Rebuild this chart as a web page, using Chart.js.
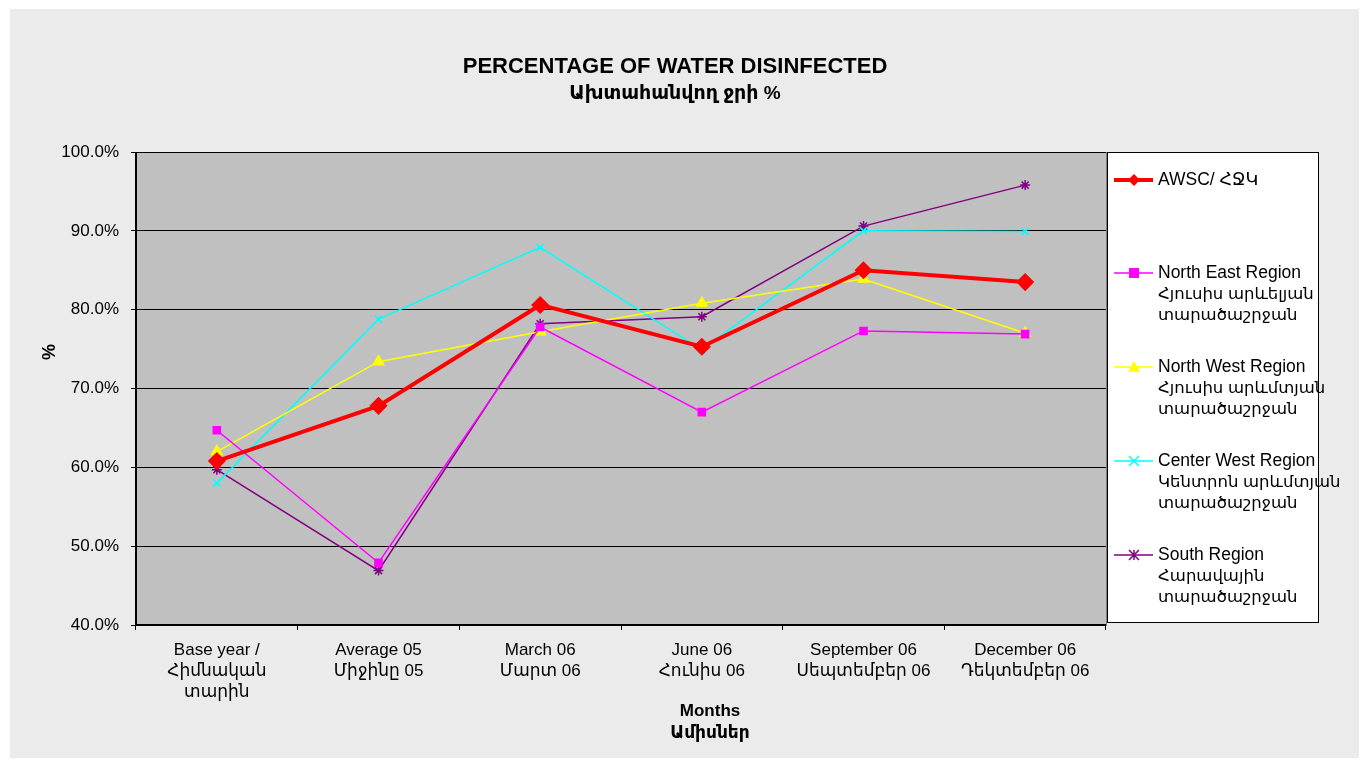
<!DOCTYPE html>
<html>
<head>
<meta charset="utf-8">
<script src="https://cdn.jsdelivr.net/npm/chart.js@4.4.1/dist/chart.umd.min.js"></script>
<style>
html,body{margin:0;padding:0;background:#ffffff;}
#wrap{position:relative;width:1369px;height:766px;}
canvas{display:block;}
</style>
</head>
<body>
<div id="wrap"><canvas id="c" width="1369" height="766"></canvas></div>
<script>
const categories = [
  ["Base year /", "Հիմնական", "տարին"],
  ["Average 05", "Միջինը 05"],
  ["March 06", "Մարտ 06"],
  ["June 06", "Հունիս 06"],
  ["September 06", "Սեպտեմբեր 06"],
  ["December 06", "Դեկտեմբեր 06"]
];
const awsc      = [60.8, 67.8, 80.6, 75.3, 85.0, 83.5];
const northEast = [64.7, 47.9, 77.8, 67.0, 77.3, 76.9];
const northWest = [62.0, 73.4, 77.2, 80.8, 83.9, 77.0];
const centerWest= [58.0, 78.8, 87.9, 74.9, 90.0, 89.9];
const south     = [59.7, 46.9, 78.2, 79.1, 90.6, 95.8];
const seriesNames = [
  ["AWSC/ ՀՋԿ"],
  ["North East Region", "Հյուսիս արևելյան", "տարածաշրջան"],
  ["North West Region", "Հյուսիս արևմտյան", "տարածաշրջան"],
  ["Center West Region", "Կենտրոն արևմտյան", "տարածաշրջան"],
  ["South Region", "Հարավային", "տարածաշրջան"]
];
const yTicks = [40, 50, 60, 70, 80, 90, 100];
const titleLines = ["PERCENTAGE OF WATER DISINFECTED", "Ախտահանվող ջրի %"];
const xTitleLines = ["Months", "Ամիսներ"];
const yTitle = "%";

const FONT = '"Liberation Sans", Arial, "Noto Sans", "DejaVu Sans", sans-serif';

function drawMarker(ctx, style, x, y, r) {
  ctx.beginPath();
  if (style === 'rectRot') {
    ctx.moveTo(x, y - r); ctx.lineTo(x + r, y); ctx.lineTo(x, y + r); ctx.lineTo(x - r, y); ctx.closePath(); ctx.fill();
  } else if (style === 'rect') {
    ctx.rect(x - r, y - r, 2 * r, 2 * r); ctx.fill();
  } else if (style === 'triangle') {
    ctx.moveTo(x, y - r); ctx.lineTo(x + r, y + r * 0.8); ctx.lineTo(x - r, y + r * 0.8); ctx.closePath(); ctx.fill();
  } else if (style === 'crossRot') {
    ctx.moveTo(x - r, y - r); ctx.lineTo(x + r, y + r); ctx.moveTo(x + r, y - r); ctx.lineTo(x - r, y + r); ctx.stroke();
  } else if (style === 'star') {
    ctx.moveTo(x - r, y - r); ctx.lineTo(x + r, y + r); ctx.moveTo(x + r, y - r); ctx.lineTo(x - r, y + r);
    ctx.moveTo(x, y - r); ctx.lineTo(x, y + r); ctx.stroke();
  }
}

const bgPlugin = {
  id: 'bg',
  beforeDraw(chart) {
    const ctx = chart.ctx;
    ctx.save();
    ctx.fillStyle = '#ffffff';
    ctx.fillRect(0, 0, chart.width, chart.height);
    ctx.fillStyle = '#ebebeb';
    ctx.fillRect(10, 9, 1349, 749);
    const a = chart.chartArea;
    ctx.fillStyle = '#c0c0c0';
    ctx.fillRect(a.left, a.top, a.right - a.left, a.bottom - a.top);
    ctx.strokeStyle = '#808080';
    ctx.lineWidth = 1;
    ctx.strokeRect(a.left + 0.5, a.top + 0.5, a.right - a.left, a.bottom - a.top);
    ctx.restore();
  },
  afterDraw(chart) {
    const ctx = chart.ctx;
    const a = chart.chartArea;
    ctx.save();
    ctx.strokeStyle = '#000000';
    ctx.lineWidth = 2;
    ctx.beginPath();
    ctx.moveTo(a.left, a.top);
    ctx.lineTo(a.left, a.bottom);
    ctx.lineTo(a.right, a.bottom);
    ctx.stroke();
    ctx.fillStyle = '#000000';
    ctx.textAlign = 'center';
    ctx.textBaseline = 'middle';
    ctx.font = 'bold 22px ' + FONT;
    ctx.fillText(titleLines[0], 675, 67);
    ctx.font = 'bold 19px ' + FONT;
    ctx.fillText(titleLines[1], 675, 94);
    ctx.font = 'bold 17px ' + FONT;
    ctx.fillText(xTitleLines[0], 710, 711);
    ctx.fillText(xTitleLines[1], 710, 733);
    ctx.save();
    ctx.translate(50, 352);
    ctx.rotate(-Math.PI / 2);
    ctx.font = 'bold 18px ' + FONT;
    ctx.fillText(yTitle, 0, 0);
    ctx.restore();
    // legend
    const lx = 1107, ly = 152, lw = 211, lh = 470;
    ctx.fillStyle = '#ffffff';
    ctx.fillRect(lx, ly, lw, lh);
    ctx.strokeStyle = '#000000';
    ctx.lineWidth = 1;
    ctx.strokeRect(lx + 0.5, ly + 0.5, lw, lh);
    const itemY = [180, 273, 367, 461, 555];
    ctx.textAlign = 'left';
    chart.data.datasets.forEach((ds, i) => {
      const y = itemY[i];
      ctx.strokeStyle = ds.borderColor;
      ctx.lineWidth = ds.borderWidth;
      ctx.beginPath();
      ctx.moveTo(1114, y);
      ctx.lineTo(1153, y);
      ctx.stroke();
      ctx.fillStyle = ds.pointBackgroundColor;
      ctx.strokeStyle = ds.pointBorderColor;
      ctx.lineWidth = 1.5;
      drawMarker(ctx, ds.pointStyle, 1134, y, ds.legendR);
      ctx.fillStyle = '#000000';
      seriesNames[i].forEach((t, k) => {
        ctx.font = (k === 0 ? '17.5px ' : '16.5px ') + FONT;
        ctx.fillText(t, 1158, y + k * 21);
      });
    });
    ctx.restore();
  }
};

function ds(label, data, color, width, style, radius, legendR) {
  return {
    label: label,
    data: data,
    borderColor: color,
    backgroundColor: color,
    pointBackgroundColor: color,
    pointBorderColor: color,
    borderWidth: width,
    pointStyle: style,
    pointRadius: radius,
    pointHoverRadius: radius,
    pointBorderWidth: 1.5,
    legendR: legendR,
    tension: 0,
    fill: false
  };
}

const datasets = [
  ds(seriesNames[0].join(' '), awsc, '#ff0000', 4, 'rectRot', 8, 6),
  ds(seriesNames[1].join(' '), northEast, '#ff00ff', 1.5, 'rect', 5, 5),
  ds(seriesNames[2].join(' '), northWest, '#ffff00', 1.5, 'triangle', 6, 6),
  ds(seriesNames[3].join(' '), centerWest, '#00ffff', 1.5, 'crossRot', 5, 5),
  ds(seriesNames[4].join(' '), south, '#800080', 1.5, 'star', 5, 5)
];

new Chart(document.getElementById('c'), {
  type: 'line',
  data: { labels: categories, datasets: datasets },
  options: {
    responsive: false,
    animation: false,
    devicePixelRatio: 1,
    layout: { padding: { top: 152, right: 263, left: 0, bottom: 0 } },
    plugins: {
      legend: { display: false },
      title: { display: false },
      tooltip: { enabled: false }
    },
    scales: {
      x: {
        type: 'category',
        offset: true,
        afterFit(scale) { scale.height = 141; },
        grid: {
          display: true,
          offset: true,
          drawOnChartArea: false,
          drawTicks: true,
          tickLength: 5,
          color: '#000000',
          lineWidth: 1
        },
        border: { display: false },
        ticks: {
          color: '#000000',
          font: { family: FONT, size: 17, lineHeight: 1.24 },
          padding: 10,
          maxRotation: 0,
          autoSkip: false
        }
      },
      y: {
        min: 40,
        max: 100,
        afterFit(scale) { scale.width = 136; },
        afterBuildTicks(scale) { scale.ticks = yTicks.map(v => ({ value: v })); },
        grid: {
          display: true,
          color: '#000000',
          lineWidth: 1,
          drawTicks: true,
          tickLength: 5
        },
        border: { display: false },
        ticks: {
          color: '#000000',
          font: { family: FONT, size: 17 },
          padding: 12,
          callback: v => v.toFixed(1) + '%'
        }
      }
    }
  },
  plugins: [bgPlugin]
});
</script>
</body>
</html>
